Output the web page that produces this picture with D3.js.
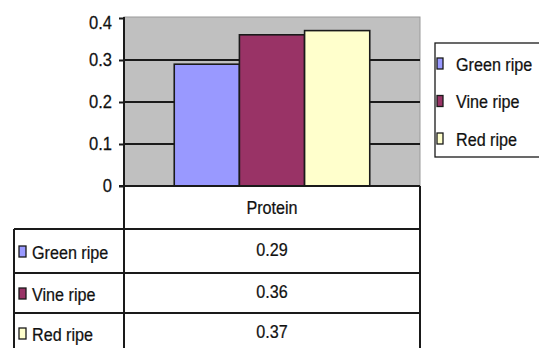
<!DOCTYPE html>
<html>
<head>
<meta charset="utf-8">
<script src="https://cdn.jsdelivr.net/npm/d3@7/dist/d3.min.js"></script>
<style>
  html, body { margin: 0; padding: 0; background: #fff; }
  svg { display: block; }
  text { font-family: "Liberation Sans", Arial, sans-serif; fill: #111; stroke: #111; stroke-width: 0.25; }
</style>
</head>
<body>
<svg id="chart" width="539" height="348"></svg>
<script>
// Tomato protein content by ripening stage
const categories = ["Protein"];
const seriesNames = ["Green ripe", "Vine ripe", "Red ripe"];
const seriesValues = [0.29, 0.36, 0.37];
const seriesColors = ["#9999FF", "#993366", "#FFFFCC"];
const tickValues = [0, 0.1, 0.2, 0.3, 0.4];
const tickLabels = ["0", "0.1", "0.2", "0.3", "0.4"];

const svg = d3.select("#chart");
const lineCol = "#1a1a1a";
const narrow = 0.85;   // horizontal squeeze of the label type
const fontSize = 19;

// plot area geometry
const plot = { left: 124, right: 420, top: 17, bottom: 186 };
const table = { left: 14, headerBottom: 229, rowH: [44, 40, 40] };

const y = d3.scaleLinear().domain([0, 0.4]).range([plot.bottom, 18]);
const x = d3.scaleBand().domain(categories)
  .range([plot.left, plot.right]).paddingInner(0).paddingOuter(0.257);
const xs = d3.scaleBand().domain(seriesNames).range([0, x.bandwidth()]).padding(0);
const color = d3.scaleOrdinal().domain(seriesNames).range(seriesColors);

// condensed label placed at (px, py), vertically centred
function label(parent, px, py, str, anchor) {
  parent.append("g")
    .attr("transform", `translate(${px},${py}) scale(${narrow},1)`)
    .append("text")
    .attr("dy", "0.35em")
    .attr("text-anchor", anchor || "start")
    .attr("font-size", fontSize)
    .text(str);
}

// plot background
svg.append("rect")
  .attr("x", plot.left).attr("y", plot.top)
  .attr("width", plot.right - plot.left).attr("height", plot.bottom - plot.top)
  .attr("fill", "#C0C0C0").attr("stroke", "#9a9a9a").attr("stroke-width", 1);

// gridlines
svg.append("g").selectAll("line")
  .data(tickValues.filter(v => v > 0 && v < 0.4))
  .join("line")
  .attr("x1", plot.left).attr("x2", plot.right)
  .attr("y1", d => y(d)).attr("y2", d => y(d))
  .attr("stroke", lineCol).attr("stroke-width", 2);

// bars
const groups = svg.append("g").selectAll("g")
  .data(categories).join("g")
  .attr("transform", d => `translate(${x(d)},0)`);
groups.selectAll("rect")
  .data(() => seriesNames.map((s, i) => ({ s, v: seriesValues[i] })))
  .join("rect")
  .attr("x", d => xs(d.s)).attr("width", xs.bandwidth())
  .attr("y", d => y(d.v)).attr("height", d => y(0) - y(d.v))
  .attr("fill", d => color(d.s))
  .attr("stroke", lineCol).attr("stroke-width", 1.6);

// y axis
const axis = d3.axisLeft(y).tickValues(tickValues)
  .tickFormat((d, i) => tickLabels[i]).tickSize(5).tickPadding(7);
const ag = svg.append("g").attr("transform", `translate(${plot.left},0)`).call(axis);
ag.select(".domain").remove();
ag.selectAll(".tick line").attr("stroke", lineCol).attr("stroke-width", 2);
ag.selectAll(".tick text").attr("font-size", 18).attr("fill", "#111")
  .attr("font-family", "Liberation Sans, Arial, sans-serif")
  .attr("transform", `scale(0.92,1)`)
  .attr("x", -12 / 0.92);
ag.selectAll(".tick").filter(d => d === 0.4).select("text").attr("dy", "0.6em");

// baseline
svg.append("line")
  .attr("x1", plot.left - 5).attr("x2", plot.right)
  .attr("y1", y(0)).attr("y2", y(0))
  .attr("stroke", lineCol).attr("stroke-width", 2);

// data table
const rowTops = [table.headerBottom];
table.rowH.forEach((h, i) => rowTops.push(rowTops[i] + h));
const tg = svg.append("g");

tg.append("line").attr("x1", plot.left).attr("x2", plot.left)
  .attr("y1", plot.top).attr("y2", 348).attr("stroke", lineCol).attr("stroke-width", 2);
tg.append("line").attr("x1", plot.right).attr("x2", plot.right)
  .attr("y1", plot.bottom).attr("y2", 348).attr("stroke", lineCol).attr("stroke-width", 2);
tg.append("line").attr("x1", table.left).attr("x2", table.left)
  .attr("y1", table.headerBottom).attr("y2", 348).attr("stroke", lineCol).attr("stroke-width", 2);
tg.selectAll("line.row").data(rowTops).join("line").attr("class", "row")
  .attr("x1", table.left).attr("x2", plot.right)
  .attr("y1", d => d).attr("y2", d => d)
  .attr("stroke", lineCol).attr("stroke-width", 2);

// header
categories.forEach(c =>
  label(tg, x(c) + x.bandwidth() / 2, (plot.bottom + table.headerBottom) / 2, c, "middle"));

// rows
const rows = seriesNames.map((s, i) => ({ s, v: seriesValues[i], top: rowTops[i], h: table.rowH[i] }));
rows.forEach(d => {
  tg.append("rect")
    .attr("x", 19).attr("width", 7)
    .attr("y", d.top + d.h / 2 - 5).attr("height", 11)
    .attr("fill", color(d.s)).attr("stroke", lineCol).attr("stroke-width", 1.3);
  label(tg, 32, d.top + d.h / 2 + 1, d.s, "start");
  label(tg, x(categories[0]) + x.bandwidth() / 2, d.top + d.h / 2 - 2, d.v.toFixed(2), "middle");
});

// legend
const lg = svg.append("g");
lg.append("rect").attr("x", 435).attr("y", 43).attr("width", 120).attr("height", 114)
  .attr("fill", "#fff").attr("stroke", lineCol).attr("stroke-width", 1.3);
const legendY = d3.scalePoint().domain(seriesNames).range([64, 139]);
seriesNames.forEach(s => {
  lg.append("rect").attr("x", 437).attr("y", legendY(s) - 6).attr("width", 6).attr("height", 11)
    .attr("fill", color(s)).attr("stroke", lineCol).attr("stroke-width", 1.3);
  label(lg, 456, legendY(s), s, "start");
});
</script>
</body>
</html>
